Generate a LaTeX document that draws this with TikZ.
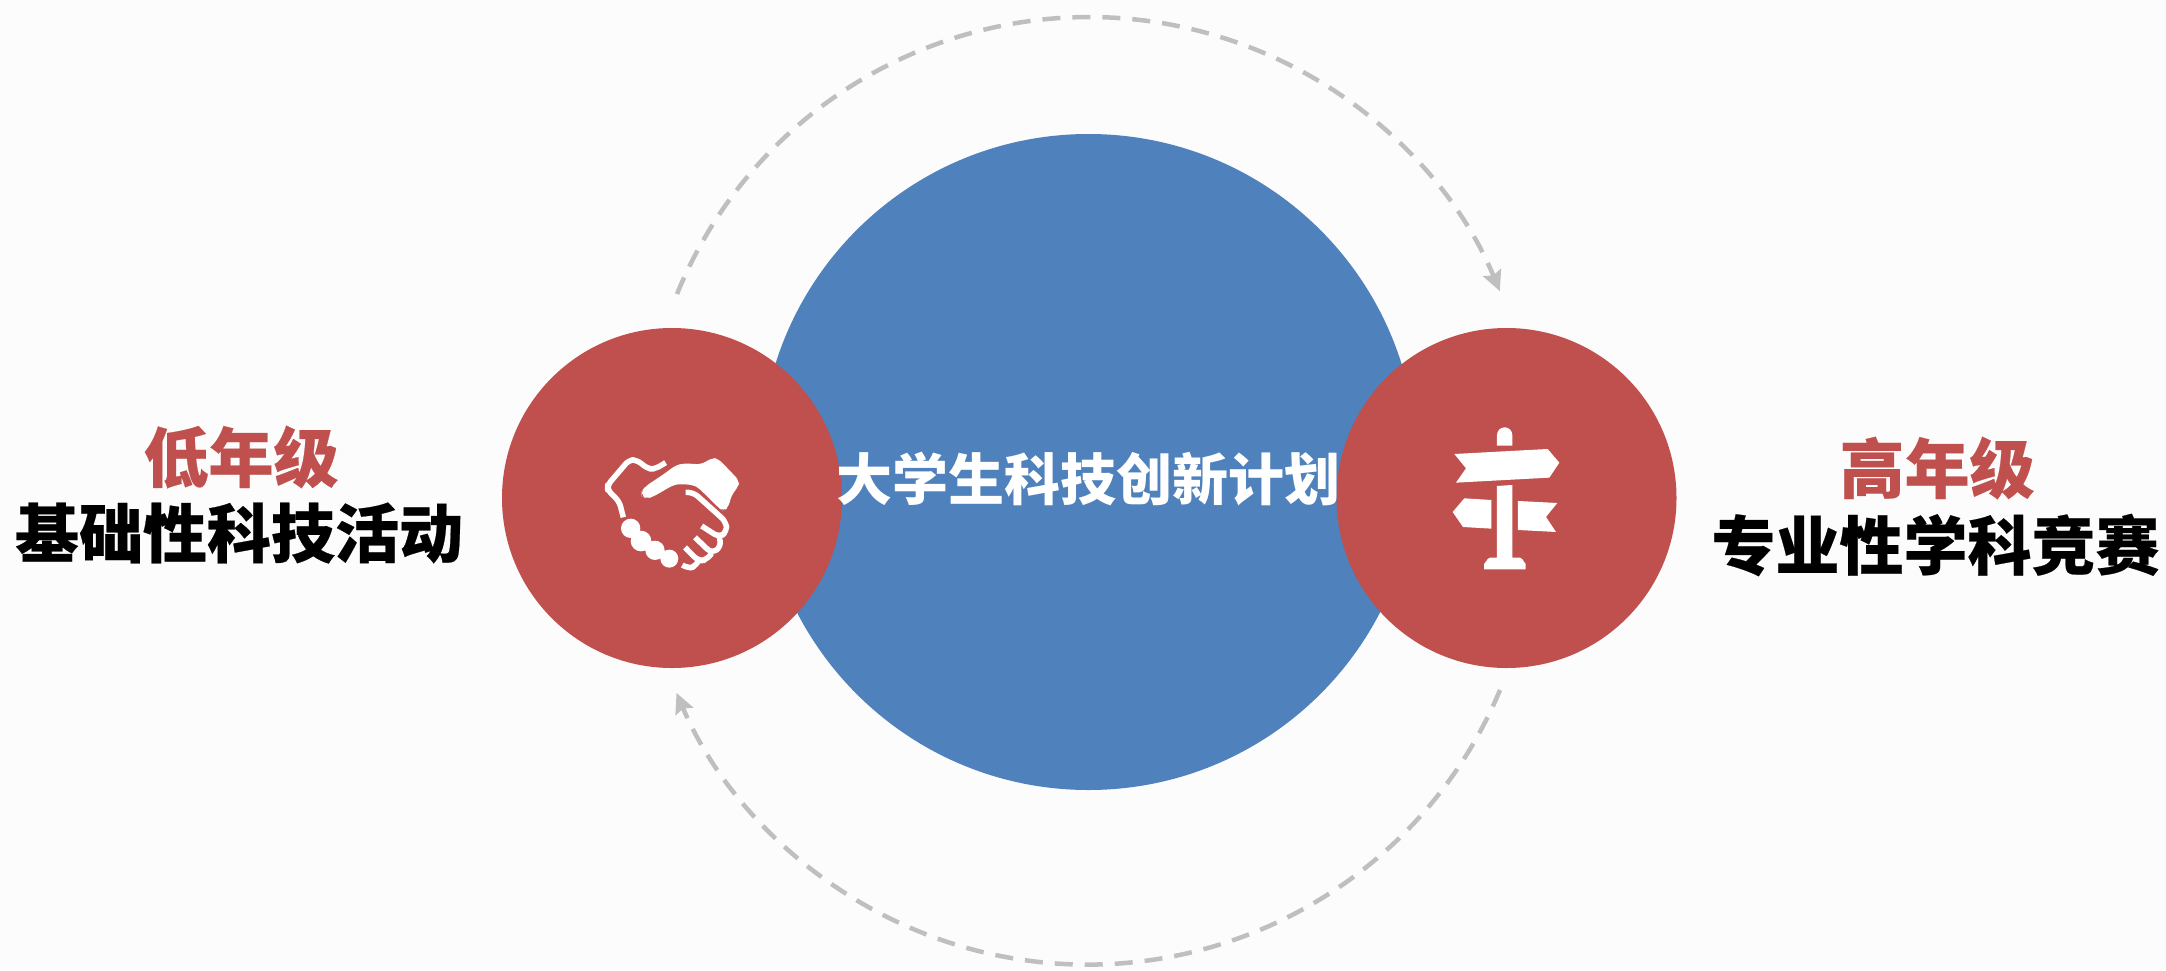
\documentclass[tikz,border=0pt]{standalone}
\usepackage{fontspec}
\newfontfamily\cjk{Noto Sans CJK SC}
\newfontfamily\cjkheavy[BoldFeatures={FakeBold=0.35}]{Noto Sans CJK SC}
\usetikzlibrary{arrows.meta}
\definecolor{bgc}{HTML}{FCFCFC}
\definecolor{blu}{HTML}{4F81BD}
\definecolor{rd}{HTML}{C0504D}
\definecolor{gry}{HTML}{BFBFBF}
\tikzset{
  big/.style={circle,fill=blu,draw=none,minimum size=656pt,inner sep=0pt},
  red/.style={circle,fill=rd,draw=none,minimum size=340pt,inner sep=0pt},
  grade/.style={text=rd,inner sep=0pt,font=\cjkheavy\bfseries\fontsize{65}{65}\selectfont},
  kind/.style={text=black,inner sep=0pt,font=\cjkheavy\bfseries\fontsize{64}{64}\selectfont},
  title/.style={text=white,inner sep=0pt,font=\cjk\bfseries\fontsize{56}{56}\selectfont},
  flow/.style={draw=gry,line width=4.5pt,dash pattern=on 18pt off 12pt,-{Stealth[length=20pt,width=19pt,inset=3pt]}},
  iconstroke/.style={draw=white,line width=5.5pt,line cap=butt,line join=round,fill=none},
  iconfill/.style={fill=white,draw=none}
}
\begin{document}
\begin{tikzpicture}[x=1pt,y=-1pt]
\useasboundingbox (0,0) rectangle (2166,970);
\fill[bgc] (0,0) rectangle (2166,970);
\node[big] (core) at (1088.5,462) {};
\node[red] (low) at (672,498) {};
\node[red] (high) at (1506.5,498) {};
\node[title] (plan) at (1088,479) {大学生科技创新计划};
\node[grade] (lowgrade) at (241,457) {低年级};
\node[kind] (lowkind) at (239,533) {基础性科技活动};
\node[grade] (highgrade) at (1937,468) {高年级};
\node[kind] (highkind) at (1935.5,545) {专业性学科竞赛};
\coordinate (topstart) at (677,294);
\coordinate (botstart) at (1500,690);
\draw[flow] (topstart) arc[start angle=202.2,end angle=337.4,radius=445];
\draw[flow] (botstart) arc[start angle=22.7,end angle=156.9,radius=447];
% handshake
\begin{scope}[shift={(480,300)},x=0.3333pt,y=-0.3333pt]
\fill[iconfill,rounded corners=5pt] (485,575) -- (495,560) -- (555,520) -- (585,497) -- (610,490) -- (665,493) -- (695,474) -- (715,476) -- (778,542) -- (775,560) -- (755,585) -- (745,622) -- (730,634) -- (718,625) -- (655,563) -- (640,555) -- (600,552) -- (580,555) -- (520,590) -- (500,596) -- (485,588) -- cycle;
\draw[iconstroke,rounded corners=5pt] (430,652) -- (418,605) -- (383,570) -- (383,555) -- (447,480) -- (470,480) -- (505,507) -- (525,507) -- (557,488);
\fill[iconfill] (452,685) circle (29) (483,723) circle (31) (525,751) circle (29) (568,776) circle (27);
\draw[iconstroke,rounded corners=6pt] (617,577) -- (640,577) -- (738,665) -- (741,695) -- (718,712) -- (665,678);
\draw[iconstroke,rounded corners=6pt] (718,712) -- (724,740) -- (695,760) -- (645,712);
\draw[iconstroke,rounded corners=6pt] (695,760) -- (680,780) -- (655,783) -- (615,742);
\draw[iconstroke,rounded corners=5pt] (655,783) -- (645,800) -- (625,805) -- (607,795);
\end{scope}
% signpost
\begin{scope}[shift={(1320,300)},x=0.3333pt,y=-0.3333pt]
\fill[iconfill] (531,437) -- (531,405) arc[start angle=180,end angle=360,radius=23] -- (577,437) -- cycle;
\fill[iconfill] (403,462) -- (683,447) -- (718,488) -- (688,533) -- (408,548) -- (438,505) -- cycle;
\fill[iconfill] (531,773) -- (531,558) -- (577,555) -- (577,773) -- (600,773) to[out=0,in=-90] (617,790) -- (617,808) -- (492,808) -- (492,790) to[out=-90,in=180] (510,773) -- cycle;
\fill[iconfill] (433,595) -- (514,600) -- (514,686) -- (429,681) -- (398,636) -- cycle;
\fill[iconfill] (594,603) -- (712,609) -- (678,651) -- (708,696) -- (594,690) -- cycle;
\end{scope}
\end{tikzpicture}
\end{document}
